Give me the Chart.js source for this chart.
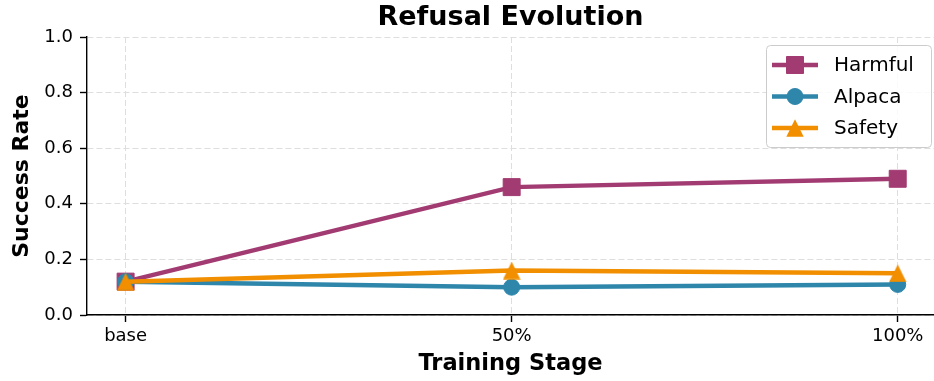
<!DOCTYPE html>
<html>
<head>
<meta charset="utf-8">
<script src="https://cdn.jsdelivr.net/npm/chart.js@4.4.0/dist/chart.umd.min.js"></script>
<style>
  html, body { margin: 0; padding: 0; background: #ffffff; }
  #c { display: block; }
</style>
</head>
<body>
<canvas id="c" width="934" height="381"></canvas>
<script>
// Success rate of each prompt set across training stages
const stages = ['base', '50%', '100%'];
const harmful = [0.12, 0.46, 0.49];
const alpaca = [0.12, 0.10, 0.11];
const safety = [0.12, 0.16, 0.15];
const yTicks = [0.0, 0.2, 0.4, 0.6, 0.8, 1.0];

const FONT = '"DejaVu Sans", "Liberation Sans", sans-serif';
const COLORS = { harmful: '#A23B72', alpaca: '#2E86AB', safety: '#F18F01' };

// Upward triangle marker as a small canvas
function triangleMarker(color, w, h) {
  const cv = document.createElement('canvas');
  cv.width = w; cv.height = h;
  const g = cv.getContext('2d');
  g.fillStyle = color;
  g.beginPath();
  g.moveTo(w / 2, 0.3);
  g.lineTo(w - 0.3, h - 0.3);
  g.lineTo(0.3, h - 0.3);
  g.closePath();
  g.fill();
  return cv;
}

const toPoints = arr => arr.map((v, i) => ({ x: i, y: v }));

const series = [
  { label: 'Harmful', data: harmful, color: COLORS.harmful, style: 'rect', radius: 12, order: 3 },
  { label: 'Alpaca', data: alpaca, color: COLORS.alpaca, style: 'circle', radius: 8, order: 2 },
  { label: 'Safety', data: safety, color: COLORS.safety, style: triangleMarker(COLORS.safety, 18, 18), radius: 9, order: 1 }
];

// Framed legend in the upper right of the plot area
const boxLegend = {
  id: 'boxLegend',
  afterDatasetsDraw(chart) {
    const { ctx, chartArea } = chart;
    const x0 = chartArea.right - 168, y0 = chartArea.top + 8, w = 165, h = 102;
    ctx.save();
    ctx.beginPath();
    ctx.roundRect(x0 + 0.5, y0 + 0.5, w, h, 4);
    ctx.fillStyle = 'rgba(255,255,255,0.85)';
    ctx.fill();
    ctx.strokeStyle = '#cccccc';
    ctx.lineWidth = 1;
    ctx.stroke();
    const rows = [20, 51.5, 83];
    series.forEach((s, i) => {
      const y = y0 + rows[i];
      ctx.strokeStyle = s.color;
      ctx.fillStyle = s.color;
      ctx.lineWidth = 4.5;
      ctx.beginPath();
      ctx.moveTo(x0 + 6, y);
      ctx.lineTo(x0 + 52, y);
      ctx.stroke();
      ctx.lineWidth = 1;
      Chart.helpers.drawPoint(ctx, { pointStyle: s.style, radius: s.radius, rotation: 0, borderWidth: 1 }, x0 + 29, y);
      ctx.fillStyle = '#000000';
      ctx.font = '20px ' + FONT;
      ctx.textBaseline = 'middle';
      ctx.textAlign = 'left';
      ctx.fillText(s.label, x0 + 68, y + 1);
    });
    ctx.restore();
  }
};

const gridOpts = {
  color: '#dedede',
  lineWidth: 1,
  tickLength: 7,
  tickColor: '#000000',
  tickWidth: 1.4,
  drawTicks: true
};

new Chart(document.getElementById('c'), {
  type: 'line',
  data: {
    datasets: series.map(s => ({
      label: s.label,
      data: toPoints(s.data),
      borderColor: s.color,
      backgroundColor: s.color,
      borderWidth: 4.5,
      pointStyle: s.style,
      pointRadius: s.radius,
      pointBorderWidth: 1,
      pointBackgroundColor: s.color,
      pointBorderColor: s.color,
      tension: 0,
      clip: false,
      order: s.order
    }))
  },
  options: {
    responsive: false,
    devicePixelRatio: 1,
    animation: false,
    events: [],
    layout: { autoPadding: false, padding: { left: 0, right: 0, top: 0, bottom: 0 } },
    plugins: {
      legend: { display: false },
      tooltip: { enabled: false },
      title: {
        display: true,
        text: 'Refusal Evolution',
        fullSize: false,
        color: '#000000',
        font: { family: FONT, size: 27, weight: 'bold' },
        padding: { top: 2, bottom: 2.6 }
      }
    },
    scales: {
      x: {
        type: 'linear',
        min: -0.1,
        max: 2.094,
        afterBuildTicks: scale => { scale.ticks = stages.map((_, i) => ({ value: i })); },
        afterFit: scale => { scale.height = 66; scale.paddingLeft = 0; scale.paddingRight = 0; },
        ticks: {
          callback: v => stages[v] ?? '',
          color: '#000000',
          font: { family: FONT, size: 18 },
          padding: 4,
          maxRotation: 0,
          autoSkip: false
        },
        grid: gridOpts,
        border: { display: true, color: '#000000', width: 1.4, dash: [6, 3] },
        title: {
          display: true,
          text: 'Training Stage',
          color: '#000000',
          font: { family: FONT, size: 22.5, weight: 'bold' },
          padding: { top: 0, bottom: 3 }
        }
      },
      y: {
        type: 'linear',
        min: 0,
        max: 1,
        afterBuildTicks: scale => { scale.ticks = yTicks.map(v => ({ value: v })); },
        afterFit: scale => { scale.width = 87; scale.paddingTop = 0; scale.paddingBottom = 0; },
        ticks: {
          callback: v => v.toFixed(1),
          color: '#000000',
          font: { family: FONT, size: 18 },
          padding: 7
        },
        grid: gridOpts,
        border: { display: true, color: '#000000', width: 1.4, dash: [6, 3] },
        title: {
          display: true,
          text: 'Success Rate',
          color: '#000000',
          font: { family: FONT, size: 22, weight: 'bold' },
          padding: { top: 9, bottom: 0 }
        }
      }
    }
  },
  plugins: [boxLegend]
});
</script>
</body>
</html>
